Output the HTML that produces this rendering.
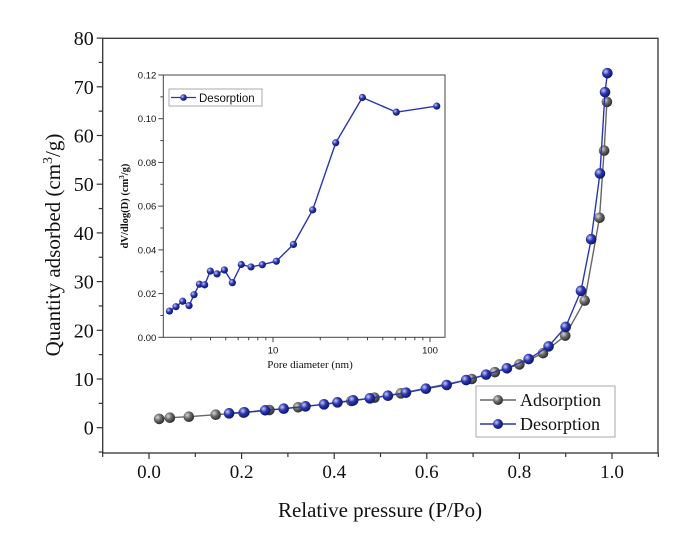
<!DOCTYPE html>
<html><head><meta charset="utf-8"><style>
body{margin:0;background:#fff;}
svg{display:block;}
text{fill:#111;}
</style></head><body>
<svg id="chart" width="700" height="533" viewBox="0 0 700 533" xmlns="http://www.w3.org/2000/svg">
<defs>
<radialGradient id="gGray" cx="35%" cy="35%" r="65%"><stop offset="0" stop-color="#d8d8d8"/><stop offset="0.5" stop-color="#6a6a6a"/><stop offset="1" stop-color="#303030"/></radialGradient>
<radialGradient id="gBlue" cx="35%" cy="35%" r="65%"><stop offset="0" stop-color="#c8ccf5"/><stop offset="0.5" stop-color="#2a36b0"/><stop offset="1" stop-color="#10186a"/></radialGradient>
</defs>
<g id="main"></g>
<g id="inset"></g>
</svg>
<script>
const adsP = [0.022,0.045,0.086,0.144,0.204,0.260,0.322,0.437,0.487,0.544,0.697,0.747,0.800,0.851,0.899,0.941,0.973,0.983,0.989];
const adsV = [1.8,2.05,2.26,2.67,3.08,3.63,4.19,5.48,6.16,7.06,10.0,11.4,13.0,15.3,18.9,26.1,43.1,56.9,66.9];
const desP = [0.173,0.206,0.251,0.291,0.338,0.378,0.407,0.441,0.477,0.516,0.555,0.598,0.643,0.685,0.728,0.773,0.820,0.863,0.900,0.933,0.955,0.974,0.985,0.990];
const desV = [2.95,3.16,3.57,3.90,4.39,4.80,5.21,5.62,6.03,6.57,7.19,8.01,8.77,9.79,10.9,12.2,14.1,16.7,20.7,28.1,38.7,52.2,68.9,72.8];
const xTicks = [0.0,0.2,0.4,0.6,0.8,1.0];
const xTickLabels = ["0.0","0.2","0.4","0.6","0.8","1.0"];
const yTicks = [0,10,20,30,40,50,60,70,80];
const poreD = [2.19,2.41,2.66,2.92,3.14,3.40,3.67,3.99,4.40,4.90,5.51,6.28,7.24,8.55,10.5,13.5,17.9,25.1,37.1,61.0,110.4];
const poreV = [0.012,0.014,0.0165,0.0145,0.0195,0.0243,0.024,0.0303,0.029,0.0308,0.025,0.0333,0.0322,0.0332,0.0348,0.0425,0.0583,0.089,0.1097,0.103,0.1058];
const inYTicks = [0,0.02,0.04,0.06,0.08,0.10,0.12];
const inYLabels = ["0.00","0.02","0.04","0.06","0.08","0.10","0.12"];
const inXTicks = [10,100];

const NS="http://www.w3.org/2000/svg";
function mk(parent,tag,attrs,txt){const e=document.createElementNS(NS,tag);for(const k in attrs)e.setAttribute(k,attrs[k]);if(txt!==undefined)e.textContent=txt;parent.appendChild(e);return e;}
const main=document.getElementById('main');
const X0=102.7,X1=658,Y0=453,Y1=38.3;
const xs=p=>149+(p)*463;
const ys=v=>427.7-v*4.87;
// frame
let f=mk(main,'rect',{x:X0,y:Y1,width:X1-X0,height:Y0-Y1,fill:'none',stroke:'#333','stroke-width':1.3});

for(let p=-0.1;p<=1.101;p+=0.1){const pr=Math.round(p*10)/10;const maj=Math.abs(Math.round(pr*10)%2)===0;mk(main,'line',{x1:xs(pr),x2:xs(pr),y1:Y0,y2:Y0+(maj?6:4),stroke:'#333','stroke-width':1.2});}
xTicks.forEach((t,i)=>{const e=mk(main,'text',{x:xs(t),y:Y0+25,'text-anchor':'middle','font-family':'Liberation Serif, serif','font-size':19},xTickLabels[i]);
});
for(let v=-5;v<=80;v+=5){const maj=v%10===0;mk(main,'line',{x1:X0,x2:X0-(maj?6:4),y1:ys(v),y2:ys(v),stroke:'#333','stroke-width':1.2});}
yTicks.forEach(t=>{const e=mk(main,'text',{x:X0-9,y:ys(t)+7,'text-anchor':'end','font-family':'Liberation Serif, serif','font-size':20},String(t));
});
let xt=mk(main,'text',{x:380,y:517,'text-anchor':'middle','font-family':'Liberation Serif, serif','font-size':21},'Relative pressure (P/Po)');

let yt=mk(main,'text',{x:0,y:0,transform:'translate(60,245) rotate(-90)','text-anchor':'middle','font-family':'Liberation Serif, serif','font-size':21});

yt.innerHTML='Quantity adsorbed (cm<tspan dy="-8" font-size="14">3</tspan><tspan dy="8">/g)</tspan>';
function series(g,P,V,col,grad,r,name,xf,yf){
  const pts=P.map((p,i)=>xf(p)+','+yf(V[i])).join(' ');
  const l=mk(g,'polyline',{points:pts,fill:'none',stroke:col,'stroke-width':1.4});
  
  P.forEach((p,i)=>{const c=mk(g,'circle',{cx:xf(p),cy:yf(V[i]),r:r,fill:'url(#'+grad+')'});
  });
}
series(main,adsP,adsV,'#666','gGray',5.3,'adsorption',xs,ys);
series(main,desP,desV,'#2a36b0','gBlue',5.3,'desorption',xs,ys);
// legend
let lg=mk(main,'g',{});
mk(lg,'rect',{x:476,y:386,width:139,height:51,fill:'#fff',stroke:'#aaa','stroke-width':1});
mk(lg,'line',{x1:480,x2:516,y1:400,y2:400,stroke:'#666','stroke-width':1.4});
mk(lg,'circle',{cx:498,cy:400,r:5,fill:'url(#gGray)'});
mk(lg,'text',{x:520,y:406,'font-family':'Liberation Serif, serif','font-size':18},'Adsorption');
mk(lg,'line',{x1:480,x2:516,y1:424,y2:424,stroke:'#2a36b0','stroke-width':1.4});
mk(lg,'circle',{cx:498,cy:424,r:5,fill:'url(#gBlue)'});
mk(lg,'text',{x:520,y:430,'font-family':'Liberation Serif, serif','font-size':18},'Desorption');

// inset
const ins=document.getElementById('inset');
const IX0=163.3,IX1=445,IY0=337.3,IY1=75;
const ix=d=>273+(Math.log10(d)-1)*157;
const iy=v=>IY0-v/0.12*(IY0-IY1);
let fr=mk(ins,'rect',{x:IX0,y:IY1,width:IX1-IX0,height:IY0-IY1,fill:'#fff',stroke:'#444','stroke-width':1});

for(let dec=1;dec<=100;dec*=10){for(let m=1;m<10;m++){const d=dec*m;const x=ix(d);if(x<IX0||x>IX1)continue;mk(ins,'line',{x1:x,x2:x,y1:IY0,y2:IY0+(m===1?5:3),stroke:'#444','stroke-width':1});}}
inXTicks.forEach(t=>{const e=mk(ins,'text',{x:ix(t),y:IY0+16,'text-anchor':'middle','font-family':'Liberation Sans, sans-serif','font-size':9.5},String(t));
});
for(let v=0;v<=0.1201;v+=0.01){const maj=Math.round(v*100)%2===0;mk(ins,'line',{x1:IX0,x2:IX0-(maj?5:3),y1:iy(v),y2:iy(v),stroke:'#444','stroke-width':1});}
inYTicks.forEach((t,i)=>{const e=mk(ins,'text',{x:IX0-7,y:iy(t)+3.5,'text-anchor':'end','font-family':'Liberation Sans, sans-serif','font-size':9.5},inYLabels[i]);
});
let ixt=mk(ins,'text',{x:310,y:368,'text-anchor':'middle','font-family':'Liberation Serif, serif','font-size':11},'Pore diameter (nm)');

let iyt=mk(ins,'text',{x:0,y:0,transform:'translate(128,206) rotate(-90)','text-anchor':'middle','font-family':'Liberation Serif, serif','font-size':10.5,'font-weight':'bold'});

iyt.innerHTML='dV/dlog(D) (cm<tspan dy="-4" font-size="7">3</tspan><tspan dy="4">/g)</tspan>';
series(ins,poreD,poreV,'#2a36b0','gBlue',3.6,'pore-distribution',ix,iy);
let il=mk(ins,'g',{});
mk(il,'rect',{x:169,y:89,width:93,height:17,fill:'#fff',stroke:'#aaa','stroke-width':1});
mk(il,'line',{x1:171,x2:196,y1:97.5,y2:97.5,stroke:'#2a36b0','stroke-width':1.3});
mk(il,'circle',{cx:183.5,cy:97.5,r:3.3,fill:'url(#gBlue)'});
mk(il,'text',{x:199,y:102,'font-family':'Liberation Sans, sans-serif','font-size':11.5},'Desorption');
</script>
</body></html>
